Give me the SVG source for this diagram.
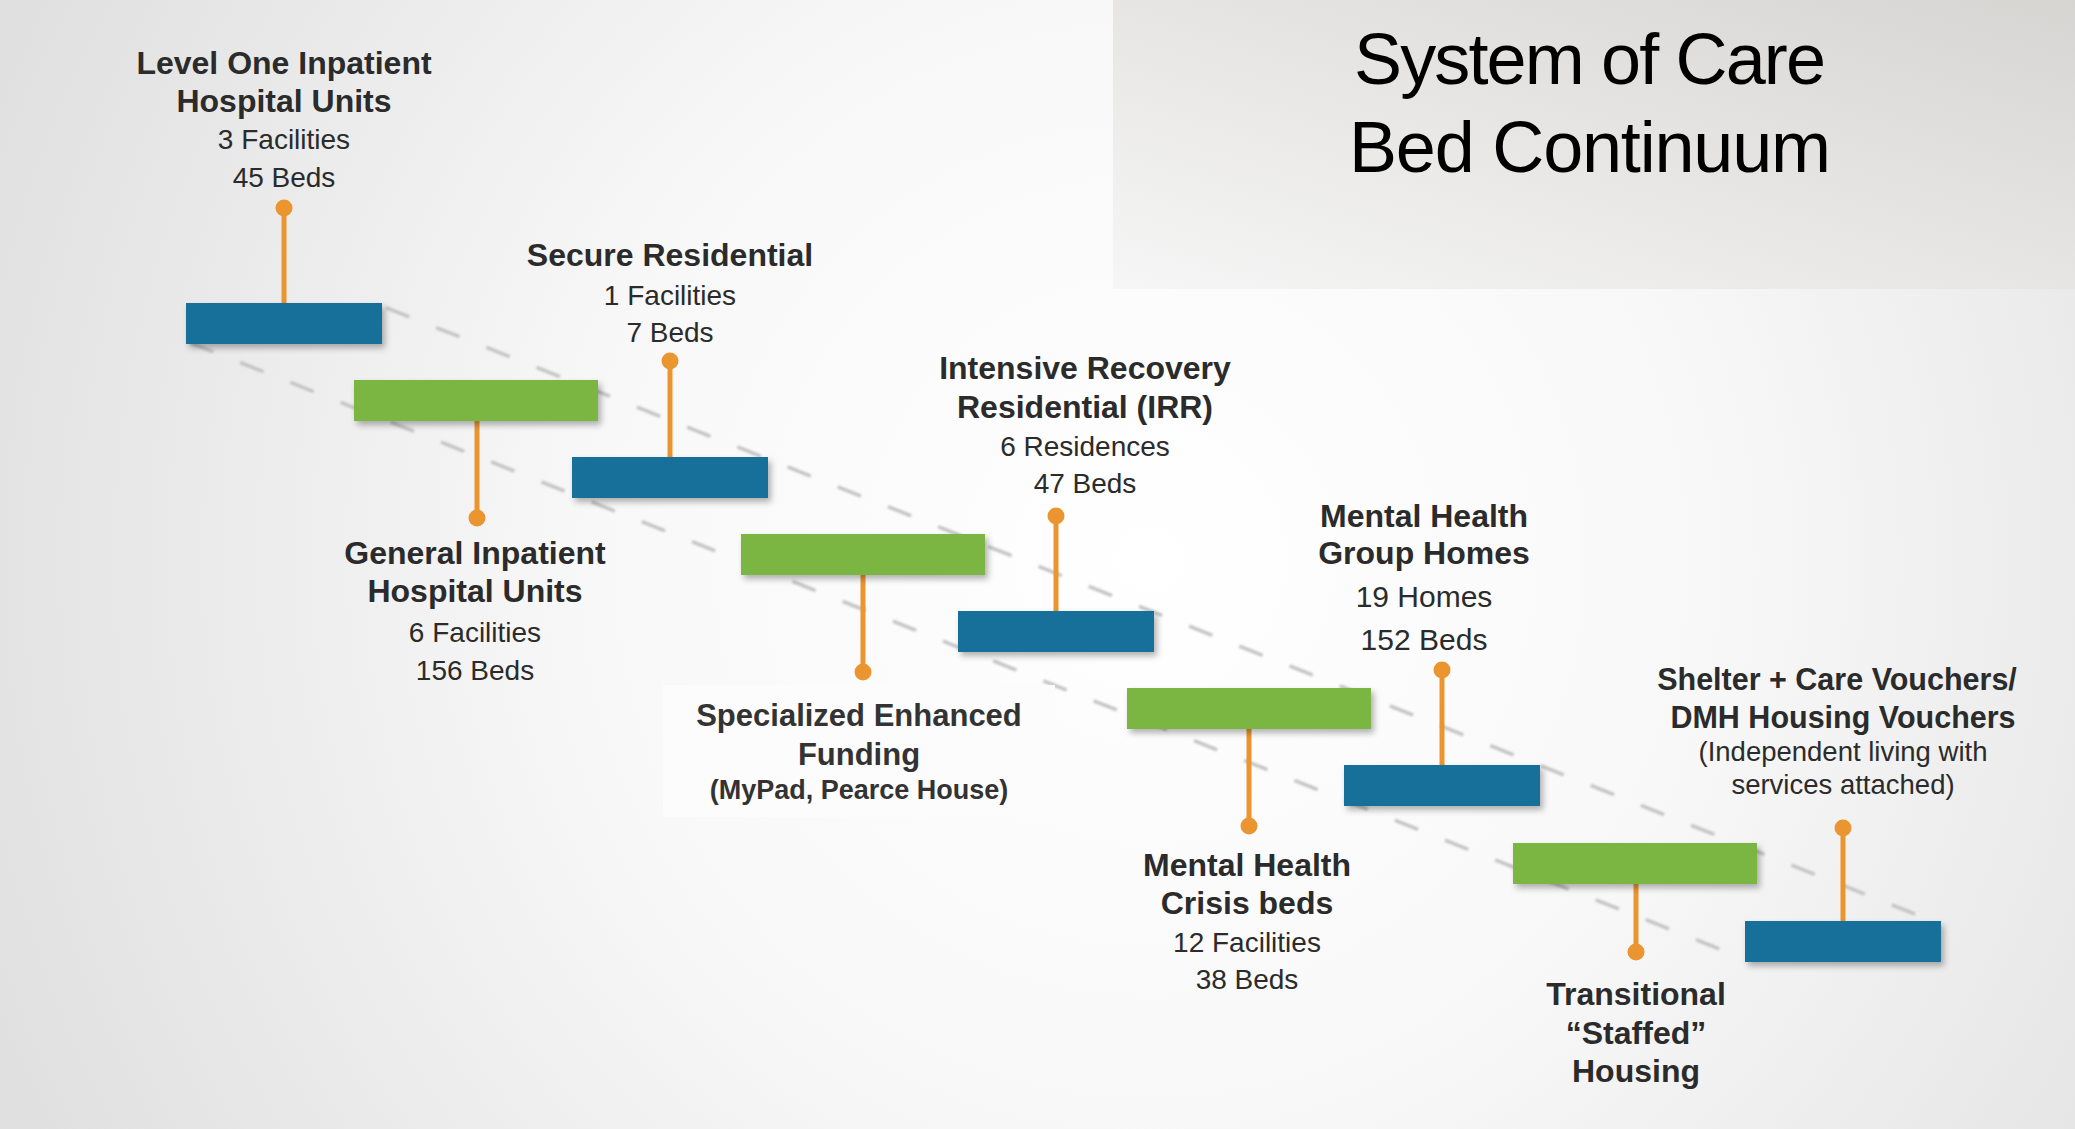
<svg xmlns="http://www.w3.org/2000/svg" width="2075" height="1129" viewBox="0 0 2075 1129">
  <defs>
    <radialGradient id="bg" gradientUnits="userSpaceOnUse" cx="1150" cy="560" r="1250">
      <stop offset="0" stop-color="#ffffff"/>
      <stop offset="0.45" stop-color="#f8f8f8"/>
      <stop offset="1" stop-color="#e0e0e0"/>
    </radialGradient>
    <linearGradient id="titleBg" x1="1" y1="0" x2="0" y2="1">
      <stop offset="0" stop-color="#d7d5d2"/>
      <stop offset="1" stop-color="#f6f6f6"/>
    </linearGradient>
    <filter id="shadow" x="-10%" y="-30%" width="130%" height="180%">
      <feDropShadow dx="3" dy="4" stdDeviation="3" flood-color="#000" flood-opacity="0.3"/>
    </filter>
    <filter id="soft" x="-5%" y="-5%" width="110%" height="110%">
      <feGaussianBlur stdDeviation="0.8"/>
    </filter>
  </defs>
  <style>
    .blue { fill: #12709a; filter: url(#shadow); }
    .green { fill: #7bb642; filter: url(#shadow); }
    .stem { stroke: #ea952f; stroke-width: 5; }
    .dot { fill: #ea952f; }
    .dash { stroke: #c4c4c4; stroke-width: 3.5; stroke-dasharray: 25 29; fill: none; }
    text { font-family: "Liberation Sans", Arial, sans-serif; fill: #2b2b2b; text-anchor: middle; }
    .h { font-size: 32px; font-weight: bold; }
    .s { font-size: 28px; }
    .s2 { font-size: 30px; }
    .h3 { font-size: 30.5px; font-weight: bold; }
    .s3 { font-size: 27.5px; }
    .title { font-size: 72px; fill: #000; }
    .spec { font-weight: bold; fill: #333; }
    .spec1 { font-size: 31px; }
    .spec2 { font-size: 27px; }
  </style>

  <rect x="0" y="0" width="2075" height="1129" fill="url(#bg)"/>
  <rect x="1113" y="0" width="962" height="289" fill="url(#titleBg)"/>
  <g id="title">
    <text class="title" x="1590" y="84" textLength="472">System of Care</text>
    <text class="title" x="1590" y="172" textLength="482">Bed Continuum</text>
  </g>

  <g id="connectors">
    <line class="dash" x1="386" y1="307.6" x2="1940" y2="924" filter="url(#soft)"/>
    <line class="dash" x1="190" y1="342.6" x2="1745" y2="959" filter="url(#soft)"/>
  </g>

  <rect x="663" y="685" width="392" height="132" fill="#fcfcfc"/>

  <g id="level-one-inpatient">
    <line class="stem" x1="284" y1="208" x2="284" y2="304"/>
    <circle class="dot" cx="284" cy="208" r="8.5"/>
    <rect class="blue" x="186" y="303" width="196" height="41"/>
    <text class="h" x="284" y="74">Level One Inpatient</text>
    <text class="h" x="284" y="112">Hospital Units</text>
    <text class="s" x="284" y="149">3 Facilities</text>
    <text class="s" x="284" y="187">45 Beds</text>
  </g>

  <g id="general-inpatient">
    <line class="stem" x1="477" y1="420" x2="477" y2="518"/>
    <circle class="dot" cx="477" cy="518" r="8.5"/>
    <rect class="green" x="354" y="380" width="244" height="41"/>
    <text class="h" x="475" y="564">General Inpatient</text>
    <text class="h" x="475" y="602">Hospital Units</text>
    <text class="s" x="475" y="642">6 Facilities</text>
    <text class="s" x="475" y="680">156 Beds</text>
  </g>

  <g id="secure-residential">
    <line class="stem" x1="670" y1="361" x2="670" y2="458"/>
    <circle class="dot" cx="670" cy="361" r="8.5"/>
    <rect class="blue" x="572" y="457" width="196" height="41"/>
    <text class="h" x="670" y="266">Secure Residential</text>
    <text class="s" x="670" y="305">1 Facilities</text>
    <text class="s" x="670" y="342">7 Beds</text>
  </g>

  <g id="specialized-enhanced-funding">
    <line class="stem" x1="863" y1="574" x2="863" y2="672"/>
    <circle class="dot" cx="863" cy="672" r="8.5"/>
    <rect class="green" x="741" y="534" width="244" height="41"/>
    <text class="spec spec1" x="859" y="726">Specialized Enhanced</text>
    <text class="spec spec1" x="859" y="765">Funding</text>
    <text class="spec spec2" x="859" y="799">(MyPad, Pearce House)</text>
  </g>

  <g id="intensive-recovery-residential">
    <line class="stem" x1="1056" y1="516" x2="1056" y2="612"/>
    <circle class="dot" cx="1056" cy="516" r="8.5"/>
    <rect class="blue" x="958" y="611" width="196" height="41"/>
    <text class="h" x="1085" y="379">Intensive Recovery</text>
    <text class="h" x="1085" y="418">Residential (IRR)</text>
    <text class="s" x="1085" y="456">6 Residences</text>
    <text class="s" x="1085" y="493">47 Beds</text>
  </g>

  <g id="mental-health-crisis-beds">
    <line class="stem" x1="1249" y1="728" x2="1249" y2="826"/>
    <circle class="dot" cx="1249" cy="826" r="8.5"/>
    <rect class="green" x="1127" y="688" width="244" height="41"/>
    <text class="h" x="1247" y="876">Mental Health</text>
    <text class="h" x="1247" y="914">Crisis beds</text>
    <text class="s" x="1247" y="952">12 Facilities</text>
    <text class="s" x="1247" y="989">38 Beds</text>
  </g>

  <g id="mental-health-group-homes">
    <line class="stem" x1="1442" y1="670" x2="1442" y2="766"/>
    <circle class="dot" cx="1442" cy="670" r="8.5"/>
    <rect class="blue" x="1344" y="765" width="196" height="41"/>
    <text class="h" x="1424" y="527">Mental Health</text>
    <text class="h" x="1424" y="564">Group Homes</text>
    <text class="s2" x="1424" y="607">19 Homes</text>
    <text class="s2" x="1424" y="650">152 Beds</text>
  </g>

  <g id="transitional-staffed-housing">
    <line class="stem" x1="1636" y1="882" x2="1636" y2="952"/>
    <circle class="dot" cx="1636" cy="952" r="8.5"/>
    <rect class="green" x="1513" y="843" width="244" height="41"/>
    <text class="h" x="1636" y="1005">Transitional</text>
    <text class="h" x="1636" y="1044">“Staffed”</text>
    <text class="h" x="1636" y="1082">Housing</text>
  </g>

  <g id="shelter-care-vouchers">
    <line class="stem" x1="1843" y1="828" x2="1843" y2="922"/>
    <circle class="dot" cx="1843" cy="828" r="8.5"/>
    <rect class="blue" x="1745" y="921" width="196" height="41"/>
    <text class="h3" x="1837" y="690">Shelter + Care Vouchers/</text>
    <text class="h3" x="1843" y="728">DMH Housing Vouchers</text>
    <text class="s3" x="1843" y="761">(Independent living with</text>
    <text class="s3" x="1843" y="794">services attached)</text>
  </g>
</svg>
